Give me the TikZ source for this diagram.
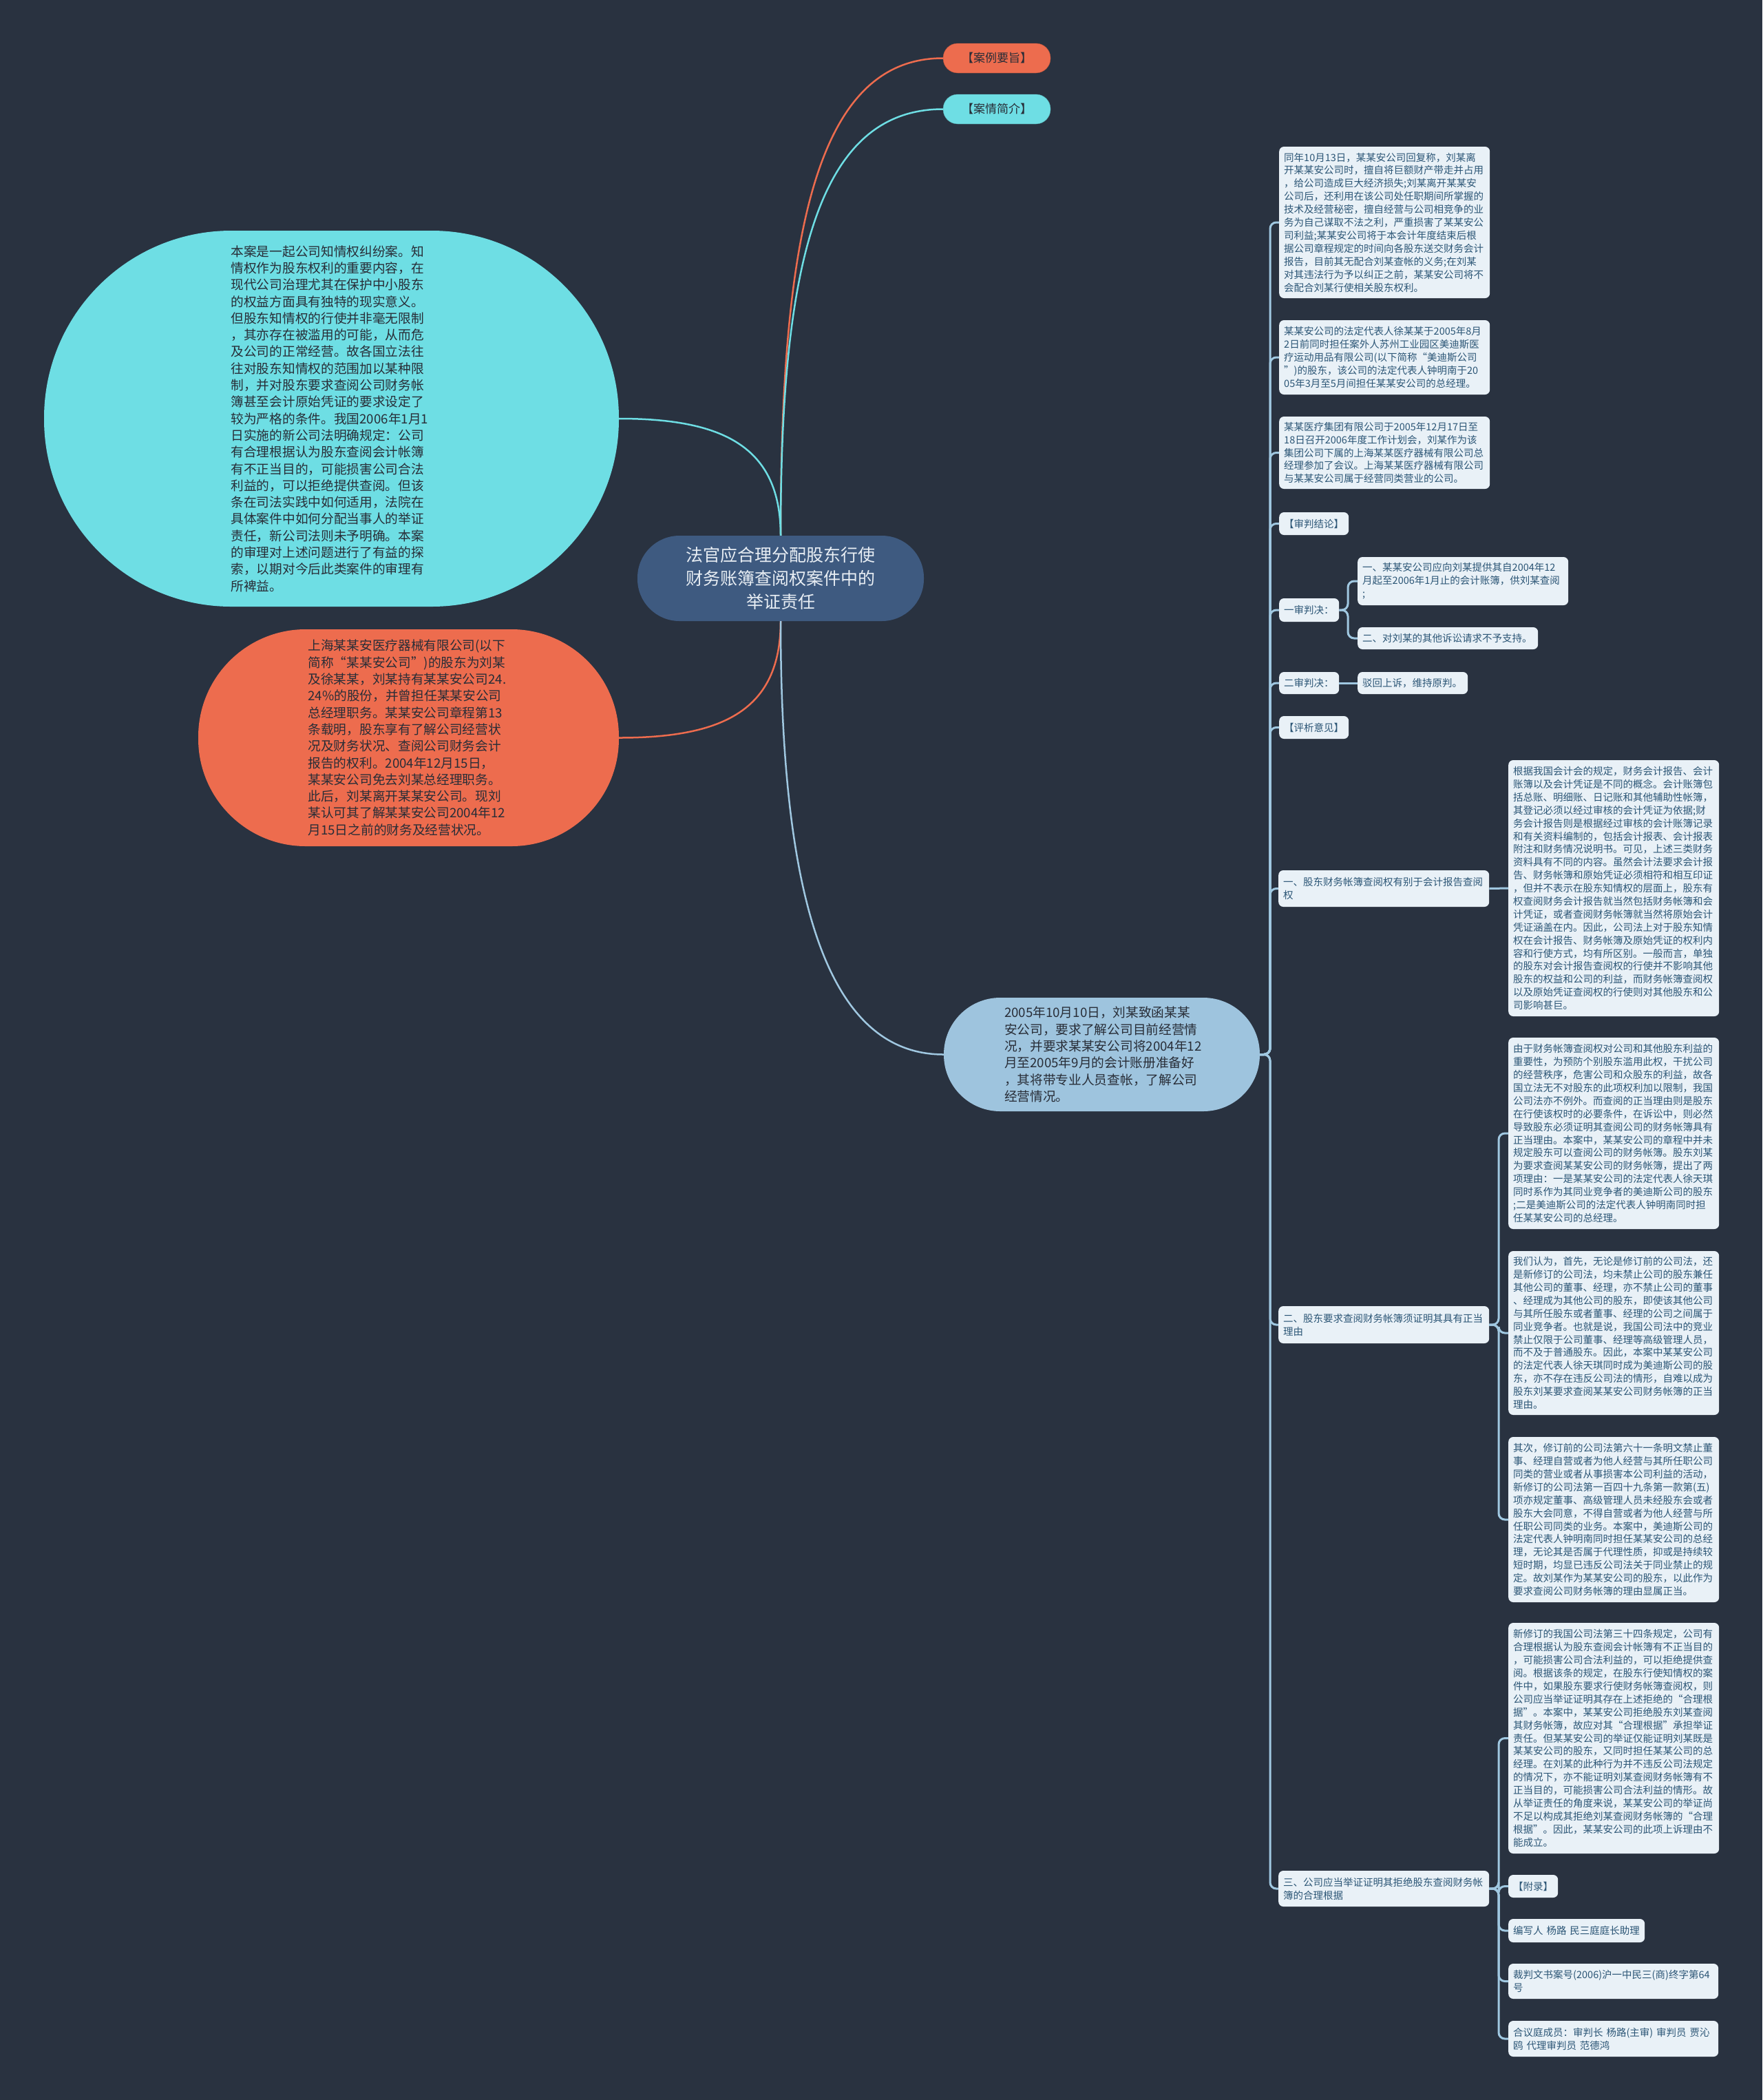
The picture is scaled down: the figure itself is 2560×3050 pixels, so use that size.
\documentclass[tikz,border=0pt]{standalone}
\usepackage{fontspec}
\setmainfont{Noto Sans CJK SC}
\definecolor{bgc}{RGB}{41,50,64}
\definecolor{orangec}{RGB}{237,108,78}
\definecolor{cyanc}{RGB}{110,222,228}
\definecolor{corec}{RGB}{62,90,128}
\definecolor{coretx}{RGB}{232,238,244}
\definecolor{midc}{RGB}{158,196,222}
\definecolor{leafc}{RGB}{233,241,247}
\definecolor{leaftx}{RGB}{44,86,118}
\definecolor{twigc}{RGB}{160,200,225}
\definecolor{darktx}{RGB}{40,45,55}
\newcommand{\bubblefont}{\fontsize{18.7}{24.3}\selectfont}
\begin{document}
\begin{tikzpicture}[x=1pt,y=-1pt,
  leaf/.style 2 args={fill=leafc,text=leaftx,rounded corners=7pt,anchor=west,align=left,inner xsep=7pt,inner ysep=0pt,text width=#1,minimum height=#2,font=\fontsize{14.5}{18.9}\selectfont},
  bubble/.style={text=darktx,align=left,font=\bubblefont},
  tag/.style={text=darktx,minimum width=156pt,minimum height=43pt,rounded corners=21pt,font=\fontsize{17}{20}\selectfont},
  curve/.style={line width=2.5pt},
  twig/.style={line width=3pt,twigc,rounded corners=9pt}]
\fill[bgc] (0,0) rectangle (2560,3050);
\useasboundingbox (0,0) rectangle (2560,3050);
% centre and first level
\node[fill=corec,text=coretx,rounded corners=61pt,minimum width=416pt,minimum height=124pt,align=center,font=\fontsize{25}{34}\selectfont] (core) at (1134,840) {法官应合理分配股东行使\\财务账簿查阅权案件中的\\举证责任};
\node[tag,fill=orangec,draw=orangec!75!black] (t1) at (1448,84.5) {【案例要旨】};
\node[tag,fill=cyanc,draw=cyanc!75!black] (t2) at (1448,158.5) {【案情简介】};
\node[bubble,fill=cyanc,minimum width=835pt,minimum height=546pt,rounded corners=272pt,text width=292pt] (intro) at (481.5,608) {本案是一起公司知情权纠纷案。知\\
情权作为股东权利的重要内容，在\\
现代公司治理尤其在保护中小股东\\
的权益方面具有独特的现实意义。\\
但股东知情权的行使并非毫无限制\\
，其亦存在被滥用的可能，从而危\\
及公司的正常经营。故各国立法往\\
往对股东知情权的范围加以某种限\\
制，并对股东要求查阅公司财务帐\\
簿甚至会计原始凭证的要求设定了\\
较为严格的条件。我国2006年1月1\\
日实施的新公司法明确规定：公司\\
有合理根据认为股东查阅会计帐簿\\
有不正当目的，可能损害公司合法\\
利益的，可以拒绝提供查阅。但该\\
条在司法实践中如何适用，法院在\\
具体案件中如何分配当事人的举证\\
责任，新公司法则未予明确。本案\\
的审理对上述问题进行了有益的探\\
索，以期对今后此类案件的审理有\\
所裨益。};
\node[bubble,fill=orangec,minimum width=611pt,minimum height=315pt,rounded corners=156pt,text width=292pt] (fact) at (593.5,1071.5) {上海某某安医疗器械有限公司(以下\\
简称“某某安公司”)的股东为刘某\\
及徐某某，刘某持有某某安公司24.\\
24\%的股份，并曾担任某某安公司\\
总经理职务。某某安公司章程第13\\
条载明，股东享有了解公司经营状\\
况及财务状况、查阅公司财务会计\\
报告的权利。2004年12月15日，\\
某某安公司免去刘某总经理职务。\\
此后，刘某离开某某安公司。现刘\\
某认可其了解某某安公司2004年12\\
月15日之前的财务及经营状况。};
\node[bubble,fill=midc,minimum width=459pt,minimum height=165pt,rounded corners=82pt,text width=283pt] (mid) at (1600.5,1531.5) {2005年10月10日，刘某致函某某\\
安公司，要求了解公司目前经营情\\
况，并要求某某安公司将2004年12\\
月至2005年9月的会计账册准备好\\
，其将带专业人员查帐，了解公司\\
经营情况。};
\draw[curve,orangec] (core.north) .. controls +(0,-450) and +(-180,0) .. (t1.west);
\draw[curve,cyanc] (core.north) .. controls +(0,-400) and +(-180,0) .. (t2.west);
\draw[curve,cyanc] (core.north) .. controls +(0,-130) and +(150,0) .. (intro.east);
\draw[curve,orangec] (core.south) .. controls +(0,130) and +(150,0) .. (fact.east);
\draw[curve,twigc] (core.south) .. controls +(0,400) and +(-170,0) .. (mid.west);
% right column
\node[leaf={292pt}{220pt}] (b1) at (1858,323) {同年10月13日，某某安公司回复称，刘某离\\
开某某安公司时，擅自将巨额财产带走并占用\\
，给公司造成巨大经济损失;刘某离开某某安\\
公司后，还利用在该公司处任职期间所掌握的\\
技术及经营秘密，擅自经营与公司相竞争的业\\
务为自己谋取不法之利，严重损害了某某安公\\
司利益;某某安公司将于本会计年度结束后根\\
据公司章程规定的时间向各股东送交财务会计\\
报告，目前其无配合刘某查帐的义务;在刘某\\
对其违法行为予以纠正之前，某某安公司将不\\
会配合刘某行使相关股东权利。};
\node[leaf={292pt}{108pt}] (b2) at (1858,519) {某某安公司的法定代表人徐某某于2005年8月\\
2日前同时担任案外人苏州工业园区美迪斯医\\
疗运动用品有限公司(以下简称“美迪斯公司\\
”)的股东，该公司的法定代表人钟明南于20\\
05年3月至5月间担任某某安公司的总经理。};
\node[leaf={292pt}{105pt}] (b3) at (1858,657.5) {某某医疗集团有限公司于2005年12月17日至\\
18日召开2006年度工作计划会，刘某作为该\\
集团公司下属的上海某某医疗器械有限公司总\\
经理参加了会议。上海某某医疗器械有限公司\\
与某某安公司属于经营同类营业的公司。};
\node[leaf={87pt}{33pt}] (jl) at (1858,760.5) {【审判结论】};
\node[leaf={73pt}{34pt}] (ys) at (1858,886) {一审判决：};
\node[leaf={292pt}{70pt}] (ys1) at (1972,844) {一、某某安公司应向刘某提供其自2004年12\\
月起至2006年1月止的会计账簿，供刘某查阅\\
;};
\node[leaf={248pt}{32pt}] (ys2) at (1972,927) {二、对刘某的其他诉讼请求不予支持。};
\node[leaf={73pt}{32pt}] (es) at (1858,992) {二审判决：};
\node[leaf={146pt}{32pt}] (es1) at (1972,992) {驳回上诉，维持原判。};
\node[leaf={87pt}{33pt}] (px) at (1858,1056.5) {【评析意见】};
\node[leaf={292pt}{53pt}] (p1) at (1857,1290.5) {一、股东财务帐簿查阅权有别于会计报告查阅\\
权};
\node[leaf={292pt}{372pt}] (p1t) at (2191,1290) {根据我国会计会的规定，财务会计报告、会计\\
账簿以及会计凭证是不同的概念。会计账簿包\\
括总账、明细账、日记账和其他辅助性帐簿，\\
其登记必须以经过审核的会计凭证为依据;财\\
务会计报告则是根据经过审核的会计账簿记录\\
和有关资料编制的，包括会计报表、会计报表\\
附注和财务情况说明书。可见，上述三类财务\\
资料具有不同的内容。虽然会计法要求会计报\\
告、财务帐簿和原始凭证必须相符和相互印证\\
，但并不表示在股东知情权的层面上，股东有\\
权查阅财务会计报告就当然包括财务帐簿和会\\
计凭证，或者查阅财务帐簿就当然将原始会计\\
凭证涵盖在内。因此，公司法上对于股东知情\\
权在会计报告、财务帐簿及原始凭证的权利内\\
容和行使方式，均有所区别。一般而言，单独\\
的股东对会计报告查阅权的行使并不影响其他\\
股东的权益和公司的利益，而财务帐簿查阅权\\
以及原始凭证查阅权的行使则对其他股东和公\\
司影响甚巨。};
\node[leaf={292pt}{54pt}] (p2) at (1857,1924) {二、股东要求查阅财务帐簿须证明其具有正当\\
理由};
\node[leaf={292pt}{278pt}] (p2a) at (2191,1646) {由于财务帐簿查阅权对公司和其他股东利益的\\
重要性，为预防个别股东滥用此权，干扰公司\\
的经营秩序，危害公司和众股东的利益，故各\\
国立法无不对股东的此项权利加以限制，我国\\
公司法亦不例外。而查阅的正当理由则是股东\\
在行使该权时的必要条件，在诉讼中，则必然\\
导致股东必须证明其查阅公司的财务帐簿具有\\
正当理由。本案中，某某安公司的章程中并未\\
规定股东可以查阅公司的财务帐簿。股东刘某\\
为要求查阅某某安公司的财务帐簿，提出了两\\
项理由：一是某某安公司的法定代表人徐天琪\\
同时系作为其同业竞争者的美迪斯公司的股东\\
;二是美迪斯公司的法定代表人钟明南同时担\\
任某某安公司的总经理。};
\node[leaf={292pt}{238pt}] (p2b) at (2191,1936) {我们认为，首先，无论是修订前的公司法，还\\
是新修订的公司法，均未禁止公司的股东兼任\\
其他公司的董事、经理，亦不禁止公司的董事\\
、经理成为其他公司的股东，即使该其他公司\\
与其所任股东或者董事、经理的公司之间属于\\
同业竞争者。也就是说，我国公司法中的竞业\\
禁止仅限于公司董事、经理等高级管理人员，\\
而不及于普通股东。因此，本案中某某安公司\\
的法定代表人徐天琪同时成为美迪斯公司的股\\
东，亦不存在违反公司法的情形，自难以成为\\
股东刘某要求查阅某某安公司财务帐簿的正当\\
理由。};
\node[leaf={292pt}{240pt}] (p2c) at (2191,2207) {其次，修订前的公司法第六十一条明文禁止董\\
事、经理自营或者为他人经营与其所任职公司\\
同类的营业或者从事损害本公司利益的活动，\\
新修订的公司法第一百四十九条第一款第(五)\\
项亦规定董事、高级管理人员未经股东会或者\\
股东大会同意，不得自营或者为他人经营与所\\
任职公司同类的业务。本案中，美迪斯公司的\\
法定代表人钟明南同时担任某某安公司的总经\\
理，无论其是否属于代理性质，抑或是持续较\\
短时期，均显已违反公司法关于同业禁止的规\\
定。故刘某作为某某安公司的股东，以此作为\\
要求查阅公司财务帐簿的理由显属正当。};
\node[leaf={292pt}{52pt}] (p3) at (1857,2743) {三、公司应当举证证明其拒绝股东查阅财务帐\\
簿的合理根据};
\node[leaf={292pt}{335pt}] (p3t) at (2191,2524.5) {新修订的我国公司法第三十四条规定，公司有\\
合理根据认为股东查阅会计帐簿有不正当目的\\
，可能损害公司合法利益的，可以拒绝提供查\\
阅。根据该条的规定，在股东行使知情权的案\\
件中，如果股东要求行使财务帐簿查阅权，则\\
公司应当举证证明其存在上述拒绝的“合理根\\
据”。本案中，某某安公司拒绝股东刘某查阅\\
其财务帐簿，故应对其“合理根据”承担举证\\
责任。但某某安公司的举证仅能证明刘某既是\\
某某安公司的股东，又同时担任某某公司的总\\
经理。在刘某的此种行为并不违反公司法规定\\
的情况下，亦不能证明刘某查阅财务帐簿有不\\
正当目的，可能损害公司合法利益的情形。故\\
从举证责任的角度来说，某某安公司的举证尚\\
不足以构成其拒绝刘某查阅财务帐簿的“合理\\
根据”。因此，某某安公司的此项上诉理由不\\
能成立。};
\node[leaf={58pt}{33pt}] (fl) at (2191,2739.5) {【附录】};
\node[leaf={184pt}{34pt}] (bx) at (2191,2804) {编写人 杨路 民三庭庭长助理};
\node[leaf={291pt}{51pt}] (cp) at (2191,2877.5) {裁判文书案号(2006)沪一中民三(商)终字第64\\
号};
\node[leaf={291pt}{52pt}] (hy) at (2191,2961) {合议庭成员：审判长 杨路(主审) 审判员 贾沁\\
鸥 代理审判员 范德鸿};
% connectors of the tree
\coordinate (trunk) at (1845,1531.5);
\coordinate (ysk) at (1958,886);
\coordinate (p2k) at (2177,1924);
\coordinate (p3k) at (2177,2743);
\foreach \n in {b1,b2,b3,jl,ys,es,px,p1,p2,p3} \draw[twig] (mid.east) -- (trunk) |- (\n.west);
\foreach \n in {ys1,ys2} \draw[twig] (ys.east) -- (ysk) |- (\n.west);
\draw[twig] (es.east) -- (es1.west);
\draw[twig] (p1.east) -- (p1t.west);
\foreach \n in {p2a,p2b,p2c} \draw[twig] (p2.east) -- (p2k) |- (\n.west);
\foreach \n in {p3t,fl,bx,cp,hy} \draw[twig] (p3.east) -- (p3k) |- (\n.west);
\end{tikzpicture}
\end{document}
